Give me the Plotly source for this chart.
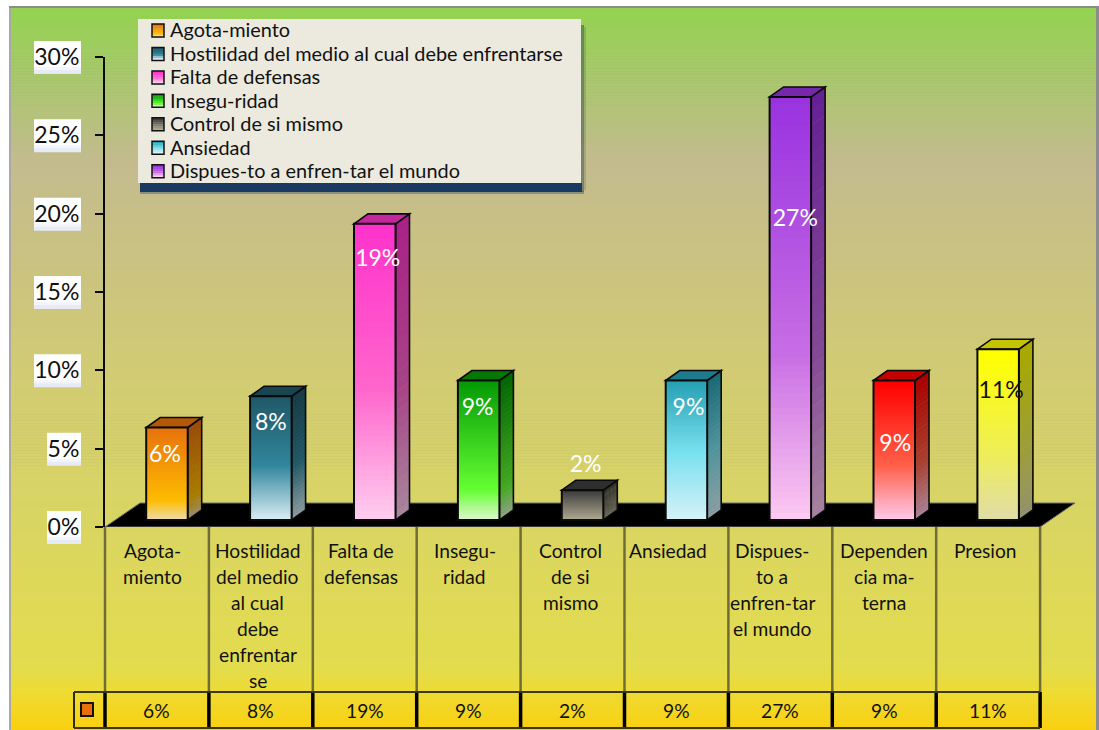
import plotly.graph_objects as go

# ---------- data ----------
category_lines = [
    ["Agota-", "miento"],
    ["Hostilidad", "del medio", "al cual", "debe", "enfrentar", "se"],
    ["Falta de", "defensas"],
    ["Insegu-", "ridad"],
    ["Control", "de si", "mismo"],
    ["Ansiedad"],
    ["Dispues-", "to a", "enfren-tar", "el mundo"],
    ["Dependen", "cia ma-", "terna"],
    ["Presion"],
]
values = [5.9, 7.9, 18.9, 8.9, 1.9, 8.9, 27, 8.9, 10.9]
value_labels = ["6%", "8%", "19%", "9%", "2%", "9%", "27%", "9%", "11%"]
legend_labels = [
    "Agota-miento",
    "Hostilidad del medio al cual debe enfrentarse",
    "Falta de defensas",
    "Insegu-ridad",
    "Control de si mismo",
    "Ansiedad",
    "Dispues-to a enfren-tar el mundo",
]
y_ticks = [0, 5, 10, 15, 20, 25, 30]
y_tick_labels = ["0%", "5%", "10%", "15%", "20%", "25%", "30%"]

# ---------- styles ----------
label_y = [4.49, 6.53, 17.0, 7.49, 3.85, 7.49, 19.61, 5.19, 8.63]
label_dx = [8, 10, 13, 9, 13, 12, 15, 11, 13]
label_colors = ["white"] * 8 + ["#111111"]
cat_dx = [-4, -3, -4, -4, -2, -8, -8, 0, -3]
gradients = [
    [(0, "#e8720c"), (0.78, "#fdbc00"), (1, "#ecdcb0")],
    [(0, "#215968"), (0.55, "#31859c"), (1, "#dcf0f6")],
    [(0, "#ff33cc"), (0.55, "#ff66cc"), (1, "#ffd0f0")],
    [(0, "#059a05"), (0.78, "#66ff33"), (1, "#e4f6d8")],
    [(0, "#3c3c3c"), (1, "#b0aa90")],
    [(0, "#27a0b4"), (0.5, "#77e0ee"), (1, "#d8f2f8")],
    [(0, "#9933e0"), (0.6, "#c86ee4"), (1, "#ffccf2")],
    [(0, "#ff0000"), (0.6, "#ff6048"), (1, "#ffccee")],
    [(0, "#ffff00"), (0.6, "#eeee58"), (1, "#e0dcaa")],
]
bg_stops = [
    (0, "#93d250"), (0.21, "#c3bb8e"), (0.45, "#cfc878"), (0.68, "#d8d465"),
    (0.915, "#e3dc4e"), (0.95, "#eedb33"), (1, "#f9d010"),
]

W, H = 1099, 730
L, R, T, B = 105, 1075, 57, 527
CELL = 103.9
PX_PER_PCT = (B - T) / 30
FLOOR = 0.45
BAR_W = 41.5 / CELL
BAR_OFF = (10 - 20.75) / CELL
DX, DY = 14 / CELL, 10 / PX_PER_PCT
FONT = "Lato"


def hex2rgb(h):
    return tuple(int(h[i:i + 2], 16) for i in (1, 3, 5))


def grad(stops, f):
    for (a, ca), (b, cb) in zip(stops, stops[1:]):
        if f <= b:
            t = (f - a) / (b - a) if b > a else 0
            ra, rb = hex2rgb(ca), hex2rgb(cb)
            return tuple(ra[i] + (rb[i] - ra[i]) * t for i in range(3))
    return hex2rgb(stops[-1][1])


def css(c, k=1.0):
    return "rgb(%d,%d,%d)" % tuple(min(255, round(v * k)) for v in c)


def xp(px):
    return (px - L) / (R - L)


def yp(py):
    return (B - py) / (B - T)


shapes = []


def box(x0, y0, x1, y1, fill=None, line=None, lw=0, layer="below"):
    shapes.append(dict(type="rect", xref="paper", yref="paper", x0=xp(x0), x1=xp(x1),
                       y0=yp(y0), y1=yp(y1), fillcolor=fill or "rgba(0,0,0,0)", layer=layer,
                       line=dict(color=line or "rgba(0,0,0,0)", width=lw)))


def vline(px, y0, y1, color, lw, layer="below"):
    shapes.append(dict(type="line", xref="paper", yref="paper", x0=xp(px), x1=xp(px),
                       y0=yp(y0), y1=yp(y1), layer=layer, line=dict(color=color, width=lw)))


def hline(x0, x1, py, color, lw, layer="below"):
    shapes.append(dict(type="line", xref="paper", yref="paper", x0=xp(x0), x1=xp(x1),
                       y0=yp(py), y1=yp(py), layer=layer, line=dict(color=color, width=lw)))


# background panel
box(9, 6, 1099, 730, fill="#8c8c8c")
box(9, 8, 11, 730, fill="#a8a8a8")
top, bottom, steps = 8, 730, 240
for k in range(steps):
    y0 = top + (bottom - top) * k / steps
    y1 = top + (bottom - top) * (k + 1) / steps + 0.6
    box(11, y0, 1096, min(y1, bottom), fill=css(grad(bg_stops, k / (steps - 1))))

# y tick label plates
for t in y_ticks:
    py = B - t * PX_PER_PCT
    left = 34 if t >= 10 else 47
    box(left, py - 16, 81, py + 11, fill="#ffffff")
    box(left, py + 10, 81, py + 14, fill="#f3f5fb")
    box(left, py + 13, 81, py + 17, fill="#e6ebf7")

# table grid under the plot
for i in range(10):
    px = 105 + i * CELL
    vline(px, 527, 692, "#6f6c3a", 2.5)
    vline(px, 692, 728, "#000000", 3.5)
vline(74, 692, 728, "#2b2a10", 2)
hline(74, 1040, 692, "#3a3815", 2)
hline(74, 1040, 728, "#3a3815", 2)
box(81, 703, 93, 716, fill="#e8700c", line="#111111", lw=2)

# floor, in data coordinates
x_lo, x_hi = -0.5, -0.5 + (R - L) / CELL
floor_depth_x, floor_depth_y = 35 / CELL, 24 / PX_PER_PCT
shapes.append(dict(type="path", xref="x", yref="y", layer="below", fillcolor="#000000",
                   line=dict(color="#6f6f78", width=1),
                   path=f"M {x_lo} 0 L {x_lo + 9} 0 L {x_hi} {floor_depth_y} "
                        f"L {x_lo + floor_depth_x} {floor_depth_y} Z"))

# 3-D side and top faces, derived from the values
side_steps = 30
for i, v in enumerate(values):
    x1 = i + BAR_OFF + BAR_W
    x0 = i + BAR_OFF
    stops = gradients[i]
    for k in range(side_steps):
        f0, f1 = k / side_steps, (k + 1) / side_steps
        yt = FLOOR + v * (1 - f0)
        yb = max(FLOOR, FLOOR + v * (1 - f1) - 0.03)
        shapes.append(dict(type="path", xref="x", yref="y", layer="below",
                           fillcolor=css(grad(stops, f0), 0.66), line=dict(width=0),
                           path=f"M {x1} {yt} L {x1 + DX} {yt + DY} L {x1 + DX} {yb + DY} L {x1} {yb} Z"))
    yt = FLOOR + v
    shapes.append(dict(type="path", xref="x", yref="y", layer="below", fillcolor="rgba(0,0,0,0)",
                       line=dict(color="#0a0a0a", width=1.6),
                       path=f"M {x1} {yt} L {x1 + DX} {yt + DY} L {x1 + DX} {FLOOR + DY} L {x1} {FLOOR} Z"))
    shapes.append(dict(type="path", xref="x", yref="y", layer="below",
                       fillcolor=css(grad(stops, 0), 0.77), line=dict(color="#0a0a0a", width=1.6),
                       path=f"M {x0} {yt} L {x0 + DX} {yt + DY} L {x1 + DX} {yt + DY} L {x1} {yt} Z"))

# legend panel
box(584, 27, 586, 190, fill="rgba(40,60,60,0.18)")
box(581, 25, 584, 192, fill="rgba(40,60,60,0.45)")
box(140, 191, 584, 194, fill="rgba(26,58,98,0.35)")
box(140, 183, 582, 192, fill="#1a3a62")
box(138, 19, 581, 183, fill="#ece9de")

annotations = []
for i, text in enumerate(legend_labels):
    cy = 30.5 + i * 23.45
    stops = gradients[i]
    for k in range(6):
        box(152, cy - 6.5 + k * 13 / 6, 164, cy - 6.5 + (k + 1) * 13 / 6 + 0.3,
            fill=css(grad(stops, k / 5)))
    box(152, cy - 6.5, 164, cy + 6.5, line="#111111", lw=1.5)
    annotations.append(dict(text=text, xref="paper", yref="paper", x=xp(168), y=yp(cy - 1),
                            xanchor="left", yanchor="middle", showarrow=False,
                            font=dict(family=FONT, size=19.9, color="#111111")))

# category and value text in the table
for i, lines in enumerate(category_lines):
    cx = 105 + (i + 0.5) * CELL
    for j, line in enumerate(lines):
        annotations.append(dict(text=line, xref="paper", yref="paper",
                                x=xp(cx + cat_dx[i]), y=yp(550 + j * 26.1),
                                xanchor="center", yanchor="middle", showarrow=False,
                                font=dict(family=FONT, size=19.2, color="#111111")))
    annotations.append(dict(text=value_labels[i], xref="paper", yref="paper",
                            x=xp(cx), y=yp(710), xanchor="center", yanchor="middle",
                            showarrow=False, font=dict(family=FONT, size=19.2, color="#111111")))

# ---------- traces ----------
fig = go.Figure()
x = list(range(len(values)))
n = 60
for k in range(n):
    f = k / n
    fig.add_trace(go.Bar(
        x=x, y=[v * (1 - f) for v in values], base=[FLOOR] * len(values),
        width=BAR_W, offset=BAR_OFF, showlegend=False, hoverinfo="skip",
        marker=dict(color=[css(grad(g, f)) for g in gradients], line=dict(width=0)),
    ))
fig.add_trace(go.Bar(
    x=x, y=values, base=[FLOOR] * len(values), width=BAR_W, offset=BAR_OFF,
    showlegend=False, marker=dict(color="rgba(0,0,0,0)", line=dict(color="#0a0a0a", width=2)),
))
fig.add_trace(go.Scatter(
    x=[i + d / CELL for i, d in enumerate(label_dx)], y=label_y, mode="text",
    text=value_labels, textposition="middle center", showlegend=False, cliponaxis=False,
    textfont=dict(family=FONT, size=23, color=label_colors),
))

fig.update_layout(
    width=W, height=H, barmode="overlay", showlegend=False,
    margin=dict(l=L, r=W - R, t=T, b=H - B, pad=0),
    paper_bgcolor="white", plot_bgcolor="rgba(0,0,0,0)",
    xaxis=dict(range=[x_lo, x_hi], showgrid=False, zeroline=False, showticklabels=False,
               ticks="", showline=False),
    yaxis=dict(range=[0, 30], tickvals=y_ticks, ticktext=y_tick_labels, showgrid=False,
               zeroline=False, showline=True, linecolor="#0a0a0a", linewidth=2,
               ticks="outside", ticklen=8, tickwidth=2, tickcolor="#0a0a0a",
               ticklabelstandoff=11,
               tickfont=dict(family=FONT, size=23, color="#111111")),
    shapes=shapes, annotations=annotations,
)

fig.write_html("out.html", config={"displayModeBar": False},
               post_script="document.body.style.margin='0';document.body.style.overflow='hidden';")
